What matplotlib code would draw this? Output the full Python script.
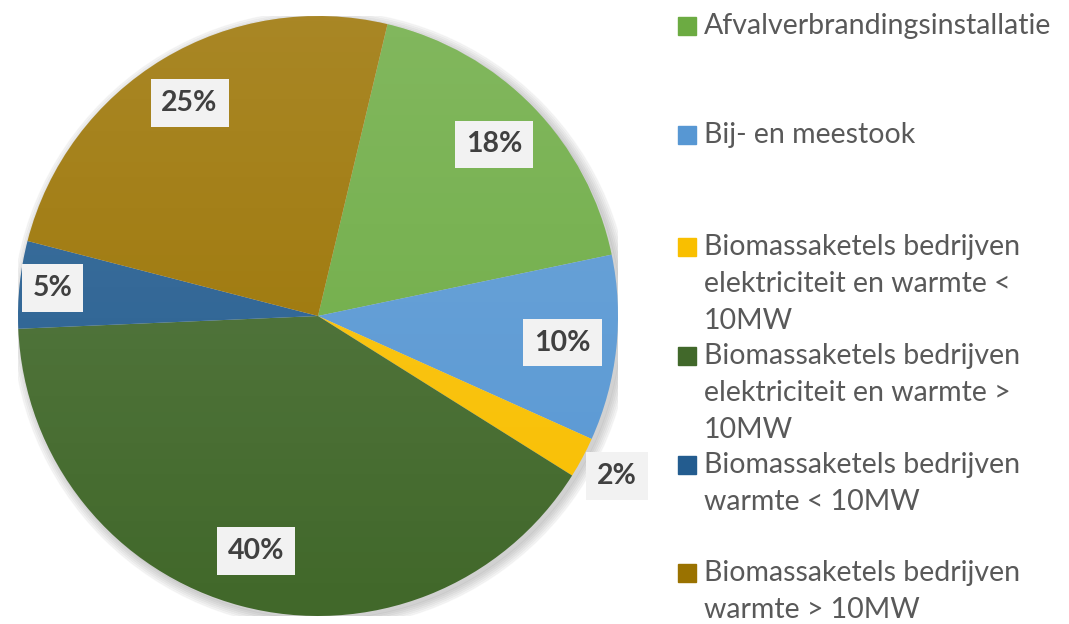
import numpy as np
import matplotlib.pyplot as plt
from matplotlib.patches import Circle, Rectangle

plt.rcParams['font.family'] = ['Lato', 'DejaVu Sans']

# data (percent of total)
categories = [
    'Afvalverbrandingsinstallatie',
    'Bij- en meestook',
    'Biomassaketels bedrijven\nelektriciteit en warmte <\n10MW',
    'Biomassaketels bedrijven\nelektriciteit en warmte >\n10MW',
    'Biomassaketels bedrijven\nwarmte < 10MW',
    'Biomassaketels bedrijven\nwarmte > 10MW',
]
shares = [18.0, 10.0, 2.2, 40.4, 4.7, 24.7]
colors = ['#6CAB42', '#5797D3', '#F9BF00', '#41682A', '#235C8F', '#9A7200']

# label radius per slice (Excel nudged the small ones)
label_r = [0.82, 0.82, 1.13, 0.81, 0.89, 0.83]
legend_y = [26, 135, 247, 356, 465, 573]  # pixel y of first text line
line_h = 37.0

W, H = 1069, 624
fig = plt.figure(figsize=(W / 100, H / 100), dpi=100)

cx, cy, r = 318, 316, 300
ax = fig.add_axes([(cx - r) / W, (H - cy - r) / H, 2 * r / W, 2 * r / H])
ax.axis('off')

# soft shadow
for k in range(6):
    sh = Circle((0.012, -0.012), 1.0 + 0.006 * k, color='black', alpha=0.03, zorder=0)
    ax.add_patch(sh)

start = 90 - 13.4
wedges, _ = ax.pie(shares, colors=colors, startangle=start, counterclock=False,
                   radius=1.0, wedgeprops=dict(linewidth=0), frame=False)

# top-to-bottom light gradient over the pie
grad = np.zeros((256, 2, 4))
grad[..., :3] = 1.0
grad[..., 3] = np.linspace(0.15, 0.0, 256)[:, None]
im = ax.imshow(grad, extent=[-1, 1, -1, 1], origin='upper', aspect='auto', zorder=3)
im.set_clip_path(Circle((0, 0), 1.0, transform=ax.transData))
ax.set_xlim(-1, 1)
ax.set_ylim(-1, 1)
ax.set_aspect('auto')

# value labels
for w, v, lr in zip(wedges, shares, label_r):
    ang = np.deg2rad((w.theta1 + w.theta2) / 2)
    ax.text(lr * np.cos(ang), lr * np.sin(ang), f'{v:.0f}%', ha='center', va='center',
            fontsize=20.5, fontweight='bold', color='#404040', zorder=5,
            bbox=dict(boxstyle='square,pad=0.38', fc='#F2F2F2', ec='none'))

# legend
for lab, col, y in zip(categories, colors, legend_y):
    fig.patches.append(Rectangle((678 / W, 1 - (y + 9) / H), 18 / W, 18 / H,
                                 transform=fig.transFigure, color=col))
    for i, line in enumerate(lab.split('\n')):
        fig.text(704 / W, 1 - (y + i * line_h) / H, line, ha='left', va='center',
                 fontsize=20.5, color='#595959')

fig.savefig('out.png', dpi=100)
